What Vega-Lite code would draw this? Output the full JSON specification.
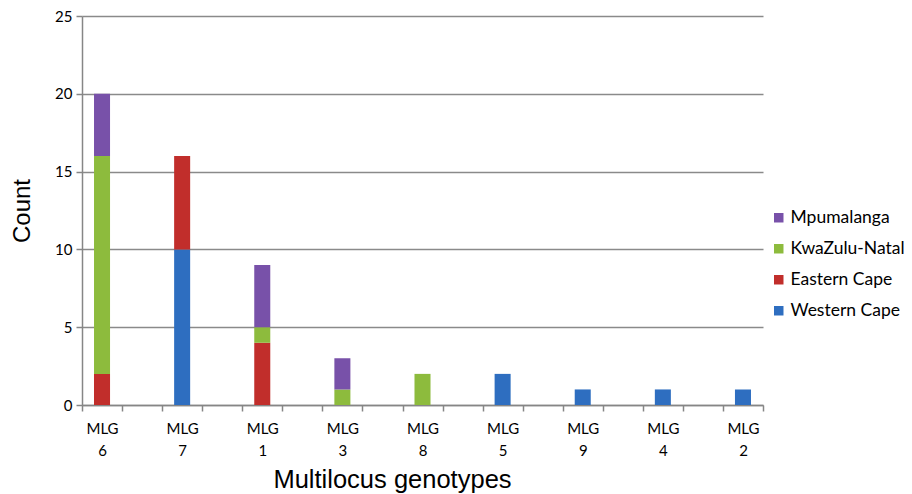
{
  "$schema": "https://vega.github.io/schema/vega-lite/v6.json",
  "width": 681,
  "height": 389,
  "autosize": "none",
  "padding": {"left": 82, "top": 16, "right": 149, "bottom": 89},
  "background": "white",
  "config": {"view": {"stroke": null}},
  "data": {
    "values": [
      {"mlg": "MLG 6", "region": "Eastern Cape", "count": 2},
      {"mlg": "MLG 6", "region": "KwaZulu-Natal", "count": 14},
      {"mlg": "MLG 6", "region": "Mpumalanga", "count": 4},
      {"mlg": "MLG 7", "region": "Western Cape", "count": 10},
      {"mlg": "MLG 7", "region": "Eastern Cape", "count": 6},
      {"mlg": "MLG 1", "region": "Eastern Cape", "count": 4},
      {"mlg": "MLG 1", "region": "KwaZulu-Natal", "count": 1},
      {"mlg": "MLG 1", "region": "Mpumalanga", "count": 4},
      {"mlg": "MLG 3", "region": "KwaZulu-Natal", "count": 1},
      {"mlg": "MLG 3", "region": "Mpumalanga", "count": 2},
      {"mlg": "MLG 8", "region": "KwaZulu-Natal", "count": 2},
      {"mlg": "MLG 5", "region": "Western Cape", "count": 2},
      {"mlg": "MLG 9", "region": "Western Cape", "count": 1},
      {"mlg": "MLG 4", "region": "Western Cape", "count": 1},
      {"mlg": "MLG 2", "region": "Western Cape", "count": 1}
    ]
  },
  "transform": [
    {"calculate": "indexof(['Western Cape','Eastern Cape','KwaZulu-Natal','Mpumalanga'], datum.region)", "as": "stackorder"}
  ],
  "layer": [
    {
      "mark": {"type": "bar"},
      "encoding": {
        "x": {
          "field": "mlg",
          "type": "nominal",
          "sort": ["MLG 6", "MLG 7", "MLG 1", "MLG 3", "MLG 8", "MLG 5", "MLG 9", "MLG 4", "MLG 2"],
          "scale": {"paddingInner": 0.8, "paddingOuter": 0.15},
          "axis": {
            "title": "Multilocus genotypes",
            "titleFont": "Liberation Sans",
            "titleFontSize": 25.5,
            "titleFontWeight": "normal",
            "titleColor": "#000000",
            "titleX": 310,
            "titleY": 82,
            "titleBaseline": "alphabetic",
            "labelAngle": 0,
            "labelExpr": "split(datum.label, ' ')",
            "labelFont": "Lato",
            "labelFontSize": 15,
            "labelColor": "#000000",
            "labelLineHeight": 22,
            "labelPadding": 10,
            "labelOffset": 20,
            "tickOffset": -20,
            "tickSize": 6,
            "tickColor": "#868686",
            "tickWidth": 1.5,
            "domainColor": "#868686",
            "domainWidth": 1.5
          }
        },
        "y": {
          "field": "count",
          "type": "quantitative",
          "aggregate": "sum",
          "scale": {"domain": [0, 25], "nice": false},
          "axis": {
            "title": "Count",
            "titleFont": "Liberation Sans",
            "titleFontSize": 24,
            "titleFontWeight": "normal",
            "titleColor": "#000000",
            "titlePadding": 20,
            "values": [0, 5, 10, 15, 20, 25],
            "labelFont": "Lato",
            "labelFontSize": 15,
            "labelColor": "#000000",
            "labelPadding": 4,
            "tickSize": 6,
            "tickColor": "#868686",
            "tickWidth": 1.5,
            "domainColor": "#868686",
            "domainWidth": 1.5,
            "grid": true,
            "gridColor": "#8a8a8a",
            "gridWidth": 1.5
          }
        },
        "color": {
          "field": "region",
          "type": "nominal",
          "scale": {
            "domain": ["Mpumalanga", "KwaZulu-Natal", "Eastern Cape", "Western Cape"],
            "range": ["#7851A9", "#8DBB3D", "#C12E2B", "#2E6EC0"]
          },
          "legend": {
            "title": null,
            "orient": "none",
            "legendX": 688,
            "legendY": 193,
            "symbolType": "square",
            "symbolSize": 90,
            "symbolStrokeWidth": 0,
            "labelFont": "Lato",
            "labelFontSize": 17.5,
            "labelColor": "#000000",
            "rowPadding": 12,
            "labelOffset": 3
          }
        },
        "order": {"field": "stackorder", "type": "quantitative"}
      }
    },
    {
      "mark": {"type": "bar", "opacity": 0},
      "encoding": {
        "x": {
          "field": "mlg",
          "type": "nominal",
          "sort": ["MLG 6", "MLG 7", "MLG 1", "MLG 3", "MLG 8", "MLG 5", "MLG 9", "MLG 4", "MLG 2"],
          "axis": {
            "orient": "bottom",
            "title": null,
            "labels": false,
            "domain": false,
            "tickOffset": 20,
            "tickSize": 6,
            "tickColor": "#868686",
            "tickWidth": 1.5
          }
        }
      }
    }
  ],
  "resolve": {"axis": {"x": "independent"}}
}
